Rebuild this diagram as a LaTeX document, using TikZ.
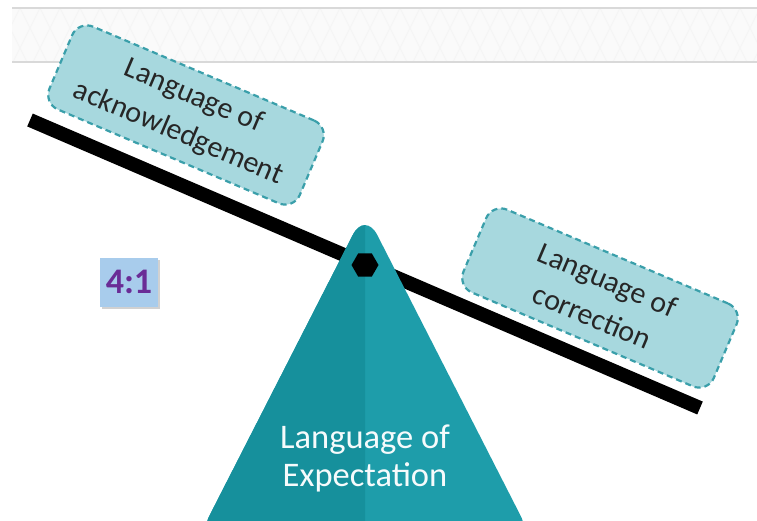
\documentclass[tikz,border=0pt]{standalone}
\usepackage{fontspec}
\setmainfont{Carlito}
\usetikzlibrary{shapes.geometric}
\definecolor{tealL}{HTML}{16909C}
\definecolor{tealR}{HTML}{1E9DAA}
\definecolor{boxfill}{HTML}{A7D8DE}
\definecolor{boxline}{HTML}{3A9FAA}
\definecolor{ratiofill}{HTML}{A8CCEC}
\definecolor{ratiotext}{HTML}{6A2C96}

\begin{document}
\begin{tikzpicture}[x=1pt,y=-1pt,
notebox/.style={draw=boxline, fill=boxfill, line width=2.2pt, dash pattern=on 6pt off 4pt, rounded corners=16pt, minimum width=272pt, minimum height=90pt, align=center, text=black!85, font=\fontsize{30}{40}\selectfont, rotate=-23},
ratiobox/.style={fill=ratiofill, minimum width=58pt, minimum height=49pt, inner sep=0pt, text=ratiotext, font=\bfseries\fontsize{36}{36}\selectfont}
]
        \clip (0,0) rectangle (757,520);
        \fill[white] (0,0) rectangle (757,520);

        % top strip
        \fill[black!2] (12,8) rectangle (757,62);
        \begin{scope}
        \clip (12,8) rectangle (757,62);
        \foreach \i in {0,...,40}
            \draw[black!4, line width=1pt] (\i*20,8) -- ++(27,54) (\i*20,8) -- ++(-27,54);
        \end{scope}
        \draw[black!15, line width=1.5pt] (12,8) -- (757,8) (12,62) -- (757,62);

        % boxes
        \node [notebox] (ack) at (186,115) {Language of\\acknowledgement};
        \node [notebox] (corr) at (600,298) {Language of\\correction};

        \fill[black!18] (102,260) rectangle (160,309);
        \node [ratiobox] (ratio) at (129,282) {4:1};

        % beam
        \coordinate (beamL) at (30,120);
        \coordinate (beamR) at (700,408);
        \draw[line width=14pt] (beamL) -- (beamR);

        % fulcrum
        \coordinate (apex) at (365,211);
        \coordinate (baseL) at (197,540);
        \coordinate (baseR) at (533,540);
        \fill[tealR, rounded corners=27pt] (baseL) -- (apex) -- (baseR) -- cycle;
        \begin{scope}
        \clip (0,0) rectangle (365,520);
        \fill[tealL, rounded corners=27pt] (baseL) -- (apex) -- (baseR) -- cycle;
        \end{scope}

        \node [regular polygon, regular polygon sides=6, fill=black, minimum size=27pt, inner sep=0pt] (pivot) at (365,265) {};
        \node [text=white!96!tealR, align=center, font=\fontsize{34.5}{38}\selectfont] (expect) at (365,458) {Language of\\Expectation};

 \end{tikzpicture}
\end{document}
